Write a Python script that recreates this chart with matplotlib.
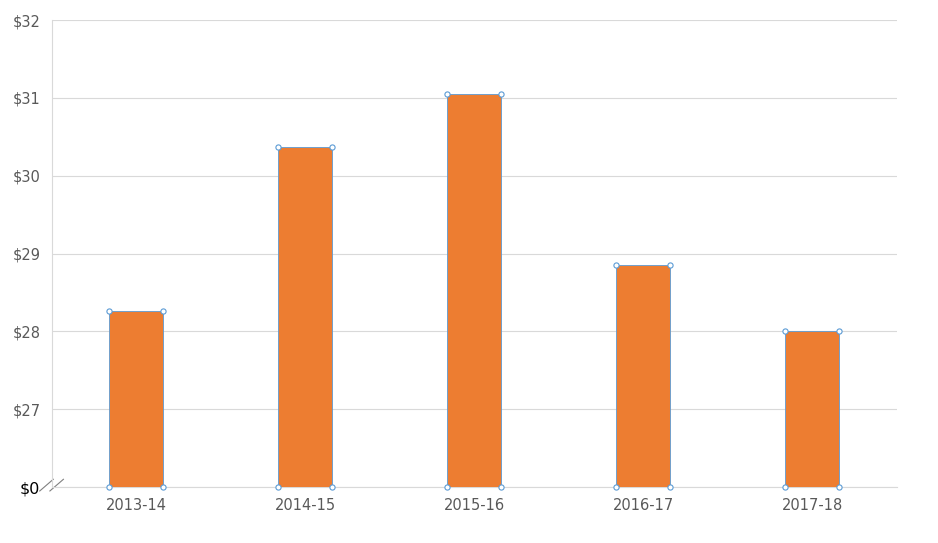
import matplotlib
matplotlib.use("Agg")
import matplotlib.pyplot as plt
import numpy as np

categories = ["2013-14", "2014-15", "2015-16", "2016-17", "2017-18"]
values = [28.26, 30.37, 31.05, 28.85, 28.01]
tick_vals = [26, 27, 28, 29, 30, 31, 32]
tick_labels = ["$0", "$27", "$28", "$29", "$30", "$31", "$32"]
base = 26

fig = plt.figure(figsize=(9.38, 5.43), dpi=100)
ax = fig.add_axes([0.055, 0.103, 0.901, 0.86])
x = np.arange(len(categories))
w = 0.32
heights = [v - base for v in values]
bars = ax.bar(x, heights, bottom=base, width=w, color="#ED7D31",
              edgecolor="#5B9BD5", linewidth=0.6, zorder=3)
# selection handles at bar corners
for b in bars:
    x0, x1 = b.get_x(), b.get_x() + b.get_width()
    y0, y1 = b.get_y(), b.get_y() + b.get_height()
    ax.scatter([x0, x1, x0, x1], [y0, y0, y1, y1], s=14, facecolor="white",
               edgecolor="#5B9BD5", linewidth=0.8, zorder=4, clip_on=False)

ax.set_xlim(-0.5, len(categories) - 0.5)
ax.set_ylim(26, 32)
ax.set_yticks(tick_vals)
ax.set_yticklabels(tick_labels, color="#595959", fontsize=10.5)
ax.get_yticklabels()[0].set_color("black")
ax.get_yticklabels()[0].set_fontsize(11.5)
ax.set_xticks(x)
ax.set_xticklabels(categories, color="#595959", fontsize=10.5)
ax.grid(axis="y", color="#D9D9D9", linewidth=0.8, zorder=0)
for s in ["top", "right"]:
    ax.spines[s].set_visible(False)
ax.spines["left"].set_color("#D9D9D9")
ax.spines["bottom"].set_color("#D9D9D9")
ax.tick_params(length=0, pad=8)
# axis break marks
for dx in (0, 0.06):
    ax.plot([-0.57 + dx, -0.49 + dx], [25.95, 26.1], color="#808080",
            linewidth=0.8, clip_on=False)
fig.savefig("out.png", dpi=100)
